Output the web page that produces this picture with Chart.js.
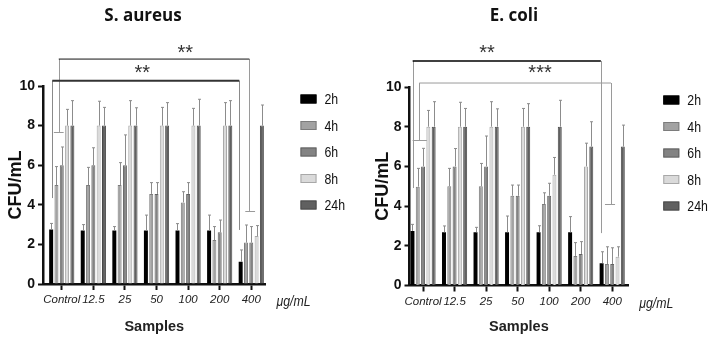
<!DOCTYPE html>
<html>
<head>
<meta charset="utf-8">
<script src="https://cdn.jsdelivr.net/npm/chart.js@4.4.0/dist/chart.umd.min.js"></script>
<style>
    body { margin: 0; background: #fff; width: 713px; height: 345px; position: relative; overflow: hidden; }
    canvas { position: absolute; top: 0; }
    #aureusChart { left: 0; }
    #coliChart { left: 367px; }
</style>
</head>
<body>
<canvas id="aureusChart" width="360" height="345"></canvas>
<canvas id="coliChart" width="346" height="345"></canvas>
<script>
// CFU/mL after treatment
const samples = ['Control', '12.5', '25', '50', '100', '200', '400'];
const timePoints = ['2h', '4h', '6h', '8h', '24h'];
const yTicks = [0, 2, 4, 6, 8, 10];

// S. aureus means
const aureus2h = [2.75, 2.7, 2.7, 2.7, 2.7, 2.7, 1.12];
const aureus4h = [5.0, 5.0, 5.0, 4.55, 4.12, 2.22, 2.09];
const aureus6h = [6.0, 6.0, 6.0, 4.55, 4.55, 2.61, 2.09];
const aureus8h = [8.0, 8.0, 8.0, 8.0, 8.0, 8.0, 2.42];
const aureus24h = [8.0, 8.0, 8.0, 8.0, 8.0, 8.0, 8.0];
// S. aureus upper error (SD)
const aureus2hErr = [0.31, 0.3, 0.2, 0.78, 0.35, 0.78, 0.6];
const aureus4hErr = [0.93, 0.89, 1.13, 0.57, 0.54, 0.68, 0.89];
const aureus6hErr = [0.92, 0.88, 1.53, 0.57, 0.57, 0.62, 0.81];
const aureus8hErr = [0.82, 1.23, 1.26, 0.92, 0.87, 1.16, 0.53];
const aureus24hErr = [1.26, 0.92, 0.9, 1.16, 1.33, 1.26, 1.04];

// E. coli means
const coli2h = [2.75, 2.68, 2.68, 2.68, 2.68, 2.68, 1.12];
const coli4h = [4.98, 5.0, 5.0, 4.52, 4.1, 1.49, 1.08];
const coli6h = [6.0, 6.0, 6.0, 4.52, 4.52, 1.59, 1.08];
const coli8h = [8.0, 8.0, 8.0, 8.0, 5.58, 6.0, 1.45];
const coli24h = [8.0, 8.0, 8.0, 8.0, 8.0, 7.0, 7.0];
// E. coli upper error (SD)
const coli2hErr = [0.33, 0.32, 0.25, 0.82, 0.33, 0.79, 0.58];
const coli4hErr = [0.92, 0.9, 1.15, 0.54, 0.57, 0.67, 0.87];
const coli6hErr = [0.91, 0.9, 1.53, 0.54, 0.63, 0.62, 0.82];
const coli8hErr = [0.82, 1.23, 1.26, 0.92, 0.87, 1.17, 0.5];
const coli24hErr = [1.26, 0.92, 0.9, 1.16, 1.33, 1.25, 1.08];

// significance brackets (x in sample index, y in CFU/mL)
const aureusBrackets = [
    { text: '**', from: -0.095, to: 5.94, level: 11.36, leftEnd: 7.68, rightEnd: 3.69, textX: 3.91, textY: 11.82, leftStub: [-0.25, 0.06], rightStub: [5.81, 6.12], kind: 'thin' },
    { text: '**', from: -0.30, to: 5.62, level: 10.27, leftEnd: 4.34, rightEnd: 2.73, textX: 2.55, textY: 10.81, kind: 'heavy' }
];
const coliBrackets = [
    { text: '**', from: -0.33, to: 5.64, level: 11.31, leftEnd: 4.91, rightEnd: 2.64, textX: 2.03, textY: 11.91, kind: 'black' },
    { text: '***', from: -0.12, to: 5.96, level: 10.2, leftEnd: 7.33, rightEnd: 4.1, textX: 3.71, textY: 10.86, leftStub: [-0.33, 0.12], rightStub: [5.77, 6.09], kind: 'gray' }
];

const SANS = "'Liberation Sans', Arial, sans-serif";
const barFills = ['#000000', '#a2a2a2', '#838383', '#dadada', '#606060'];
const barEdges = ['#000000', '#7c7c7c', '#626262', '#a8a8a8', '#4a4a4a'];
const bracketStyles = {
    thin: { line: '#111', width: 1, leg: '#9a9a9a' },
    heavy: { line: '#333', width: 2, leg: '#8a8a8a' },
    black: { line: '#000', width: 1.5, leg: '#9a9a9a' },
    gray: { line: '#9a9a9a', width: 1, leg: '#9a9a9a' }
};

// narrow text: squeeze Liberation Sans horizontally like Arial Narrow
function narrowText(ctx, text, x, y, align) {
    const w = ctx.measureText(text).width * 0.82;
    let left = x;
    if (align === 'center') left = x - w / 2;
    ctx.save();
    ctx.textAlign = 'left';
    ctx.translate(left, y);
    ctx.scale(0.82, 1);
    ctx.fillText(text, 0, 0);
    ctx.restore();
}

const errorBarPlugin = {
    id: 'errorBars',
    afterDatasetsDraw(chart) {
        const ctx = chart.ctx;
        const y = chart.scales.y;
        ctx.save();
        ctx.strokeStyle = '#8c8c8c';
        ctx.lineWidth = 1;
        chart.data.datasets.forEach((ds, k) => {
            const meta = chart.getDatasetMeta(k);
            meta.data.forEach((bar, i) => {
                const px = Math.round(bar.x) + 0.5;
                const top = y.getPixelForValue(ds.data[i].y + ds.errors[i]);
                ctx.beginPath();
                ctx.moveTo(px, bar.y);
                ctx.lineTo(px, top);
                ctx.moveTo(px - 1.5, top);
                ctx.lineTo(px + 1.5, top);
                ctx.stroke();
            });
        });
        ctx.restore();
    }
};

const decorPlugin = {
    id: 'decor',
    afterDraw(chart, args, opts) {
        const ctx = chart.ctx;
        const x = chart.scales.x;
        const y = chart.scales.y;
        const area = chart.chartArea;
        ctx.save();

        // panel title
        ctx.fillStyle = '#111';
        ctx.font = "bold 17px 'Open Sans', sans-serif";
        ctx.textAlign = 'center';
        ctx.textBaseline = 'middle';
        ctx.fillText(opts.title, opts.titleX, 16);

        // unit next to the sample axis
        ctx.font = 'italic 15px ' + SANS;
        ctx.fillStyle = '#222';
        narrowText(ctx, '\u03bcg/mL', area.right + 28, area.bottom + 18, 'center');

        // legend
        ctx.font = '15px ' + SANS;
        timePoints.forEach((t, k) => {
            const ly = area.top + 13 + k * 26.5;
            const lx = area.right + 35;
            ctx.fillStyle = barFills[k];
            ctx.fillRect(lx, ly - 4.5, 16, 9);
            ctx.strokeStyle = barEdges[k];
            ctx.lineWidth = 1;
            ctx.strokeRect(lx + 0.5, ly - 4, 15, 8);
            ctx.fillStyle = '#111';
            narrowText(ctx, t, lx + 24, ly + 1, 'left');
        });

        // significance brackets
        opts.brackets.forEach((b) => {
            const st = bracketStyles[b.kind];
            const x0 = x.getPixelForValue(b.from);
            const x1 = x.getPixelForValue(b.to);
            const yl = y.getPixelForValue(b.level);
            ctx.strokeStyle = st.leg;
            ctx.lineWidth = 1;
            ctx.beginPath();
            ctx.moveTo(Math.round(x0) + 0.5, yl);
            ctx.lineTo(Math.round(x0) + 0.5, y.getPixelForValue(b.leftEnd));
            ctx.moveTo(Math.round(x1) + 0.5, yl);
            ctx.lineTo(Math.round(x1) + 0.5, y.getPixelForValue(b.rightEnd));
            if (b.leftStub) {
                const sy = Math.round(y.getPixelForValue(b.leftEnd)) + 0.5;
                ctx.moveTo(x.getPixelForValue(b.leftStub[0]), sy);
                ctx.lineTo(x.getPixelForValue(b.leftStub[1]), sy);
            }
            if (b.rightStub) {
                const sy = Math.round(y.getPixelForValue(b.rightEnd)) + 0.5;
                ctx.moveTo(x.getPixelForValue(b.rightStub[0]), sy);
                ctx.lineTo(x.getPixelForValue(b.rightStub[1]), sy);
            }
            ctx.stroke();
            ctx.strokeStyle = st.line;
            ctx.lineWidth = st.width;
            ctx.beginPath();
            ctx.moveTo(x0, yl);
            ctx.lineTo(x1, yl);
            ctx.stroke();
            ctx.fillStyle = '#333';
            ctx.font = '20px ' + SANS;
            ctx.textAlign = 'center';
            ctx.textBaseline = 'middle';
            ctx.fillText(b.text, x.getPixelForValue(b.textX), y.getPixelForValue(b.textY) + 4);
        });
        ctx.restore();
    }
};

function renderCfuChart(canvasId, opts) {
    const ctx = document.getElementById(canvasId);
    if (!ctx) {
        console.error('Canvas element not found: ' + canvasId);
        return null;
    }

    const datasets = timePoints.map((t, k) => ({
        label: t,
        data: opts.means[k].map((v, i) => ({ x: i, y: v })),
        errors: opts.errors[k],
        backgroundColor: barFills[k],
        borderColor: barEdges[k],
        borderWidth: k === 0 ? 0 : 1,
        categoryPercentage: 0.84,
        barPercentage: 0.75
    }));

    return new Chart(ctx, {
        type: 'bar',
        data: { datasets: datasets },
        plugins: [errorBarPlugin, decorPlugin],
        options: {
            responsive: false,
            animation: false,
            devicePixelRatio: 1,
            layout: {
                padding: { top: opts.top, right: opts.right, left: 0, bottom: 0 }
            },
            plugins: {
                legend: { display: false },
                tooltip: { enabled: false },
                decor: { title: opts.title, titleX: opts.titleX, brackets: opts.brackets }
            },
            scales: {
                x: {
                    type: 'linear',
                    min: opts.xMin,
                    max: opts.xMax,
                    offset: false,
                    afterBuildTicks: (s) => { s.ticks = samples.map((_, i) => ({ value: i })); },
                    afterFit: (s) => { s.height = opts.bottomBand; },
                    ticks: {
                        autoSkip: false,
                        maxRotation: 0,
                        padding: 3,
                        color: '#222',
                        font: { family: SANS, size: 11.5, style: 'italic' },
                        callback: function (value) {
                            return samples[value];
                        }
                    },
                    grid: {
                        offset: false,
                        drawOnChartArea: false,
                        tickLength: 6,
                        tickWidth: 2,
                        tickColor: '#111'
                    },
                    border: { color: '#111', width: 2.5 },
                    title: {
                        display: true,
                        text: 'Samples',
                        color: '#222',
                        font: { family: SANS, size: 14.5, weight: 'bold' },
                        padding: { top: 0, bottom: 9 }
                    }
                },
                y: {
                    min: 0,
                    max: 10,
                    afterBuildTicks: (s) => { s.ticks = yTicks.map((v) => ({ value: v })); },
                    afterFit: (s) => { s.width = opts.axisLeft; },
                    ticks: {
                        padding: 3,
                        color: '#111',
                        font: { family: SANS, size: 14, weight: 'bold' }
                    },
                    grid: {
                        drawOnChartArea: false,
                        tickLength: 5,
                        tickWidth: 2,
                        tickColor: '#111'
                    },
                    border: { color: '#111', width: 2.5 },
                    title: {
                        display: true,
                        text: 'CFU/mL',
                        color: '#111',
                        font: { family: SANS, size: 18, weight: 'bold' },
                        padding: { top: 5, bottom: 0 }
                    }
                }
            }
        }
    });
}

renderCfuChart('aureusChart', {
    title: 'S. aureus',
    titleX: 143,
    means: [aureus2h, aureus4h, aureus6h, aureus8h, aureus24h],
    errors: [aureus2hErr, aureus4hErr, aureus6hErr, aureus8hErr, aureus24hErr],
    brackets: aureusBrackets,
    xMin: -0.594,
    xMax: 6.45,
    top: 86,
    right: 94.5,
    axisLeft: 43,
    bottomBand: 61
});

renderCfuChart('coliChart', {
    title: 'E. coli',
    titleX: 147,
    means: [coli2h, coli4h, coli6h, coli8h, coli24h],
    errors: [coli2hErr, coli4hErr, coli6hErr, coli8hErr, coli24hErr],
    brackets: coliBrackets,
    xMin: -0.43,
    xMax: 6.51,
    top: 87,
    right: 84.7,
    axisLeft: 42.5,
    bottomBand: 59.5
});
</script>
</body>
</html>
